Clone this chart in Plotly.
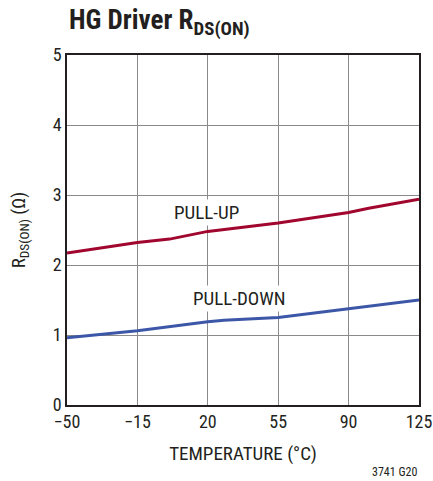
import plotly.graph_objects as go

temp_up = [-50, -15, 1, 20, 55, 90, 100, 125]
pull_up = [2.17, 2.32, 2.37, 2.48, 2.60, 2.75, 2.81, 2.94]
temp_down = [-50, -15, 20, 28, 55, 90, 125]
pull_down = [0.96, 1.06, 1.19, 1.21, 1.25, 1.37, 1.50]
x_ticks = [-50, -15, 20, 55, 90, 125]
x_tick_labels = ["\u221250", "\u221215", "20", "55", "90", "125"]
y_ticks = [0, 1, 2, 3, 4, 5]

FONT = "Liberation Sans Narrow, Roboto Condensed, Arial Narrow, sans-serif"

fig = go.Figure()
fig.add_trace(go.Scatter(x=temp_up, y=pull_up, mode="lines",
                         line=dict(color="#A1062E", width=3), showlegend=False))
fig.add_trace(go.Scatter(x=temp_down, y=pull_down, mode="lines",
                         line=dict(color="#3D57A8", width=3), showlegend=False))

fig.update_layout(
    width=433, height=481,
    margin=dict(l=67, r=14, t=55, b=76),
    paper_bgcolor="white", plot_bgcolor="white",
    font=dict(family=FONT, color="#231F20", size=18),
)
fig.update_xaxes(range=[-50, 125], tickvals=x_ticks, ticktext=x_tick_labels,
                 automargin=False,
                 showgrid=True, gridcolor="#8a8a8a", gridwidth=1,
                 showline=True, mirror=True, linecolor="#231F20", linewidth=1.5,
                 zeroline=False, ticks="", tickfont=dict(size=18, family=FONT),
                 title=dict(text="TEMPERATURE (°C)", font=dict(size=19, family=FONT), standoff=15))
fig.update_yaxes(range=[0, 5], tickvals=y_ticks,
                 automargin=False,
                 showgrid=True, gridcolor="#8a8a8a", gridwidth=1,
                 showline=True, mirror=True, linecolor="#231F20", linewidth=1.5,
                 zeroline=False, ticks="", tickfont=dict(size=18, family=FONT),
                 title=dict(text="R<sub>DS(ON)</sub> (\u03a9)", font=dict(size=19, family=FONT), standoff=22))

fig.add_annotation(x=19.5, y=2.75, text="PULL-UP", showarrow=False,
                   font=dict(size=19, family=FONT, color="#231F20"), bgcolor="white")
fig.add_annotation(x=36, y=1.52, text="PULL-DOWN", showarrow=False,
                   font=dict(size=19, family=FONT, color="#231F20"), bgcolor="white")
fig.add_annotation(xref="paper", yref="paper", x=0, y=1.094, xanchor="left", yanchor="middle",
                   text="<b>HG Driver R<sub>DS(ON)</sub></b>", showarrow=False,
                   font=dict(size=27, family=FONT, color="#231F20"))
fig.add_annotation(xref="paper", yref="paper", x=1, y=-0.19, xanchor="right", yanchor="middle",
                   text="3741 G20", showarrow=False,
                   font=dict(size=12, family=FONT, color="#231F20"))

fig.write_html("out.html", config={"displayModeBar": False},
               post_script="document.body.style.margin='0';document.body.style.overflow='hidden';")
